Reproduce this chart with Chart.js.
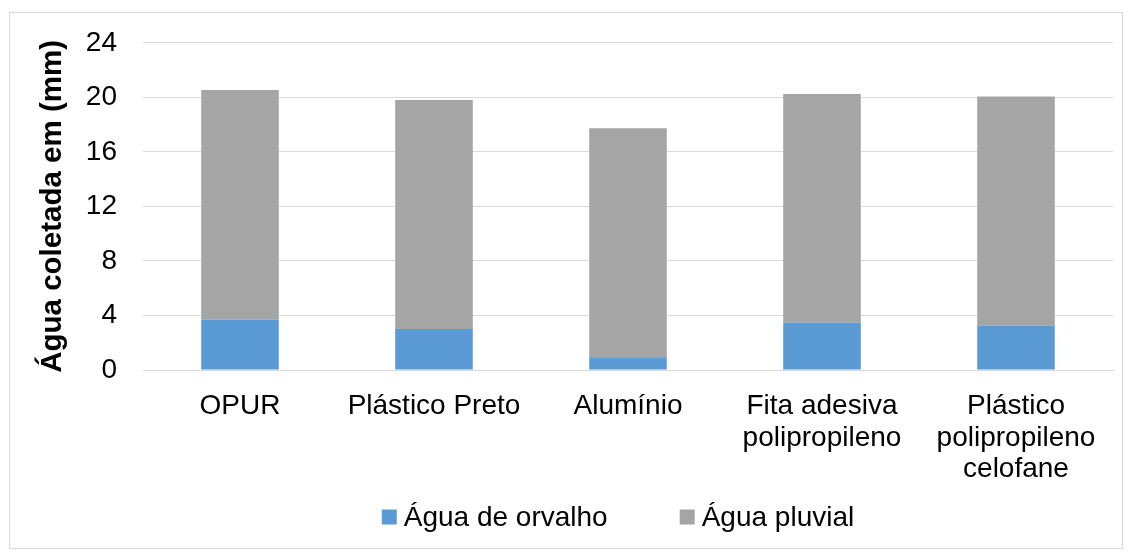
<!DOCTYPE html>
<html>
<head>
<meta charset="utf-8">
<script src="https://cdn.jsdelivr.net/npm/chart.js@4"></script>
<style>
  html, body { margin: 0; padding: 0; background: #fff; }
  canvas { display: block; }
</style>
</head>
<body>
<canvas id="chart" width="1132" height="558"></canvas>
<script>
// Categories (surfaces tested) and collected water per surface, in mm
const categories = [
  'OPUR',
  'Plástico Preto',
  'Alumínio',
  ['Fita adesiva', 'polipropileno'],
  ['Plástico', 'polipropileno', 'celofane']
];
const aguaOrvalho = [3.71, 3.0, 0.93, 3.46, 3.27];
const aguaPluvial = [16.82, 16.8, 16.8, 16.78, 16.8];
const seriesNames = ['Água de orvalho', 'Água pluvial'];
const seriesColors = ['#5B9BD5', '#A5A5A5'];
const yTicks = [0, 4, 8, 12, 16, 20, 24];

const FONT = '"Liberation Sans", Arial, sans-serif';
const GRID = '#D9D9D9';

// Light frame around the whole chart
const framePlugin = {
  id: 'frame',
  beforeDraw(chart) {
    const ctx = chart.ctx;
    ctx.save();
    ctx.fillStyle = '#fff';
    ctx.fillRect(0, 0, chart.width, chart.height);
    ctx.strokeStyle = GRID;
    ctx.lineWidth = 1;
    ctx.strokeRect(9.5, 12.5, 1113, 536);
    ctx.restore();
  }
};

// Legend row under the axis: square swatch followed by series name
const legendPlugin = {
  id: 'rowLegend',
  afterDraw(chart) {
    const ctx = chart.ctx;
    ctx.save();
    ctx.font = '28px ' + FONT;
    ctx.textBaseline = 'middle';
    const box = 15, gapText = 7, gapItem = 72;
    const items = chart.data.datasets.map(d => ({ text: d.label, color: d.backgroundColor }));
    const widths = items.map(it => box + gapText + ctx.measureText(it.text).width);
    const total = widths.reduce((a, b) => a + b, 0) + gapItem * (items.length - 1);
    let x = 618 - total / 2;
    const cy = 517;
    items.forEach((it, i) => {
      ctx.fillStyle = it.color;
      ctx.fillRect(x, cy - box / 2, box, box);
      ctx.fillStyle = '#000';
      ctx.fillText(it.text, x + box + gapText, cy + 1);
      x += widths[i] + gapItem;
    });
    ctx.restore();
  }
};

new Chart(document.getElementById('chart'), {
  type: 'bar',
  data: {
    labels: categories,
    datasets: [
      { label: seriesNames[0], data: aguaOrvalho, backgroundColor: seriesColors[0] },
      { label: seriesNames[1], data: aguaPluvial, backgroundColor: seriesColors[1] }
    ]
  },
  options: {
    responsive: false,
    devicePixelRatio: 1,
    animation: false,
    layout: { padding: { top: 42, right: 19, bottom: 0, left: 0 } },
    datasets: { bar: { barPercentage: 0.4, categoryPercentage: 1.0 } },
    plugins: {
      legend: { display: false },
      tooltip: { enabled: false }
    },
    scales: {
      x: {
        stacked: true,
        grid: { display: false },
        border: { display: true, color: GRID, width: 1 },
        ticks: {
          color: '#000',
          font: { family: FONT, size: 28, lineHeight: 1.12 },
          padding: 13,
          maxRotation: 0,
          autoSkip: false
        },
        afterFit(scale) { scale.height = 188; }
      },
      y: {
        stacked: true,
        min: 0,
        max: 24,
        afterBuildTicks(scale) { scale.ticks = yTicks.map(v => ({ value: v })); },
        grid: { color: GRID, lineWidth: 1, drawTicks: false },
        border: { display: false },
        ticks: {
          color: '#000',
          font: { family: FONT, size: 28 },
          padding: 26
        },
        title: {
          display: true,
          text: 'Água coletada em (mm)',
          color: '#000',
          font: { family: FONT, size: 29.5, weight: 'bold' },
          padding: { top: 35, bottom: 0 }
        },
        afterFit(scale) { scale.width = 143; }
      }
    }
  },
  plugins: [framePlugin, legendPlugin]
});
</script>
</body>
</html>
